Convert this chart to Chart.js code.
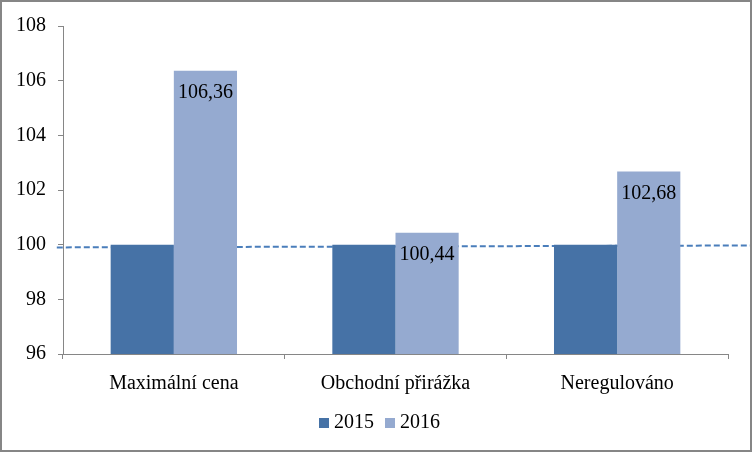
<!DOCTYPE html>
<html>
<head>
<meta charset="utf-8">
<script src="https://cdn.jsdelivr.net/npm/chart.js@4"></script>
<style>
  html, body { margin: 0; padding: 0; background: #fff; }
  #wrap { width: 752px; height: 452px; box-sizing: border-box; border: 2px solid #868686; position: relative; }
  canvas { display: block; }
</style>
</head>
<body>
<div id="wrap"><canvas id="c" width="748" height="448"></canvas></div>
<script>
const categories = ['Maximální cena', 'Obchodní přirážka', 'Neregulováno'];
const seriesNames = ['2015', '2016'];
const values2015 = [100, 100, 100];
const values2016 = [106.36, 100.44, 102.68];
const yTicks = [96, 98, 100, 102, 104, 106, 108];
// dashed reference line: category-index positions (extends past the plot edges) and values
const refLineX = [-0.528, 2.6];
const refLineY = [99.9, 99.97];

const FONT = "'Liberation Serif', 'Times New Roman', serif";
const FS = 20;

const labelPlugin = {
  id: 'barLabels',
  afterDatasetsDraw(chart) {
    const ctx = chart.ctx;
    const meta = chart.getDatasetMeta(1);
    ctx.save();
    ctx.font = FS + "px " + FONT;
    ctx.fillStyle = '#000';
    ctx.textAlign = 'center';
    ctx.textBaseline = 'middle';
    meta.data.forEach((bar, i) => {
      const txt = values2016[i].toFixed(2).replace('.', ',');
      ctx.fillText(txt, bar.x, bar.y + 22);
    });
    ctx.restore();
  }
};

new Chart(document.getElementById('c'), {
  type: 'bar',
  data: {
    labels: categories,
    datasets: [
      { type: 'bar', label: seriesNames[0], data: values2015, backgroundColor: '#4672a6', xAxisID: 'x', yAxisID: 'y' },
      { type: 'bar', label: seriesNames[1], data: values2016, backgroundColor: '#95aad0', xAxisID: 'x', yAxisID: 'y' },
      { type: 'line', label: 'ref', parsing: false, xAxisID: 'x', yAxisID: 'y',
        data: refLineX.map((x, i) => ({ x: x, y: refLineY[i] })),
        borderColor: '#4a7ebb', borderWidth: 2, borderDash: [6, 3], pointRadius: 0,
        fill: false, clip: false, tension: 0 }
    ]
  },
  options: {
    responsive: false,
    animation: false,
    devicePixelRatio: 1,
    datasets: { bar: { categoryPercentage: 0.57, barPercentage: 1.0 } },
    layout: { padding: { top: 21, right: 0, left: 12, bottom: 7 } },
    plugins: {
      tooltip: { enabled: false },
      legend: {
        position: 'bottom',
        labels: {
          filter: (item) => item.datasetIndex < 2,
          usePointStyle: true, pointStyle: 'rect',
          boxWidth: 0.01, boxHeight: 10, padding: 16,
          color: '#000',
          font: { family: FONT, size: FS }
        }
      }
    },
    scales: {
      x: {
        type: 'category',
        offset: true,
        grid: { offset: true, drawOnChartArea: false, drawTicks: true, tickLength: 5, color: '#868686' },
        border: { color: '#868686', width: 1 },
        ticks: { color: '#000', font: { family: FONT, size: FS }, padding: 13, maxRotation: 0 },
        afterFit: (s) => { s.height = 43; }
      },
      y: {
        min: 96, max: 108,
        afterBuildTicks: (s) => { s.ticks = yTicks.map(v => ({ value: v })); },
        grid: { drawOnChartArea: false, drawTicks: true, tickLength: 5, color: '#868686' },
        border: { color: '#868686', width: 1 },
        ticks: { color: '#000', font: { family: FONT, size: FS }, padding: 12 },
        afterFit: (s) => { s.width = 49; }
      },
      yspace: {
        type: 'linear', position: 'right', display: true,
        grid: { display: false }, border: { display: false }, ticks: { display: false },
        afterFit: (s) => { s.width = 22; }
      }
    }
  },
  plugins: [labelPlugin]
});
</script>
</body>
</html>
